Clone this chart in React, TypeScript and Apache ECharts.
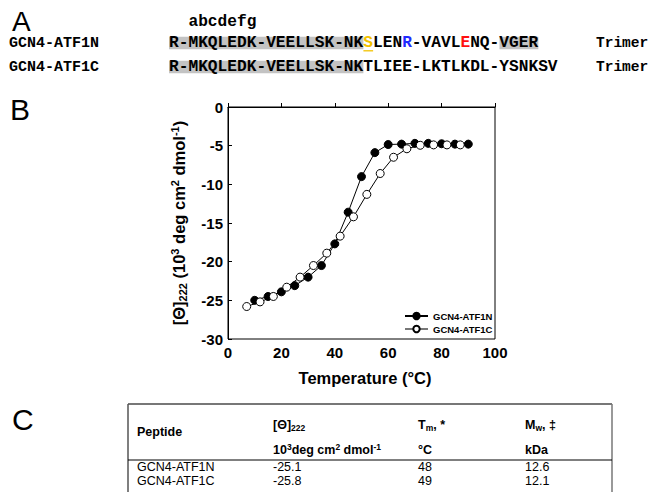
import React, { useEffect, useRef } from "react";
import * as echarts from "echarts";

// ---- Panel B data ----
const tempN = [10, 15, 20, 25, 30, 35, 40, 45, 50, 55, 60, 65, 70, 75, 80, 85, 90];
const thetaN = [-25.0, -24.5, -23.9, -23.1, -22.0, -20.5, -17.7, -13.6, -9.0, -5.9, -4.85, -4.8, -4.7, -4.7, -4.75, -4.8, -4.8];
const tempC = [7, 12, 17, 22, 27, 32, 37, 42, 47, 52, 57, 62, 67, 72, 77, 82, 87];
const thetaC = [-25.8, -25.2, -24.5, -23.3, -22.0, -20.5, -18.9, -16.7, -14.2, -11.3, -8.6, -6.5, -5.4, -4.95, -4.9, -4.9, -4.9];
const seriesNames = ["GCN4-ATF1N", "GCN4-ATF1C"];

// ---- Panel A text ----
const heptad = "abcdefg";
const seqN = "R-MKQLEDK-VEELLSK-NKSLENR-VAVLENQ-VGER";
const seqC = "R-MKQLEDK-VEELLSK-NKTLIEE-LKTLKDL-YSNKSV";
const oligomer = ["Trimer", "Trimer"];

// ---- Panel C table ----
const tableRows = [
  ["GCN4-ATF1N", "-25.1", "48", "12.6"],
  ["GCN4-ATF1C", "-25.8", "49", "12.1"],
];

const MONO = "'Liberation Mono', 'DejaVu Sans Mono', monospace";
const SANS = "'Liberation Sans', Arial, sans-serif";

export default function App() {
  const ref = useRef<HTMLDivElement>(null);
  useEffect(() => {
    document.body.style.margin = "0";
    const chart = echarts.init(ref.current!, null, { renderer: "svg" });

    const fs = 16.2;
    const cw = fs * 0.6;
    const seqX = 169;
    const row1 = 43;
    const row2 = 67;
    const gray = "#c3c3c3";
    const monoStyle = { fontFamily: MONO, fontWeight: "bold" as const, fontSize: fs, fill: "#000" };
    const nameStyle = { fontFamily: MONO, fontWeight: "bold" as const, fontSize: 15, fill: "#000" };

    const seqRich = {
      n: { fontFamily: MONO, fontWeight: "bold", fontSize: fs, fill: "#000" },
      s: { fontFamily: MONO, fontWeight: "bold", fontSize: fs, fill: "#f2c200" },
      b: { fontFamily: MONO, fontWeight: "bold", fontSize: fs, fill: "#1f2bff" },
      r: { fontFamily: MONO, fontWeight: "bold", fontSize: fs, fill: "#ff1010" },
    };
    const seqNRich =
      "{n|" + seqN.slice(0, 20) + "}{s|" + seqN[20] + "}{n|" + seqN.slice(21, 24) + "}{b|" + seqN[24] +
      "}{n|" + seqN.slice(25, 30) + "}{r|" + seqN[30] + "}{n|" + seqN.slice(31) + "}";

    const letterStyle = { fontFamily: SANS, fontSize: 28, fill: "#000", verticalAlign: "middle" as const, lineHeight: 22 };
    const graphics: any[] = [
      // panel letters
      { type: "text", x: 12, y: 21, style: { ...letterStyle, text: "A" } },
      { type: "text", x: 10, y: 109, style: { ...letterStyle, fontSize: 30, text: "B" } },
      { type: "text", x: 12, y: 419, style: { ...letterStyle, fontSize: 30, text: "C" } },
      // gray highlights
      { type: "rect", shape: { x: seqX, y: row1 - 6.3, width: cw * 20, height: 12.6 }, style: { fill: gray } },
      { type: "rect", shape: { x: seqX + cw * 34, y: row1 - 6.3, width: cw * 4, height: 12.6 }, style: { fill: gray } },
      { type: "rect", shape: { x: seqX, y: row2 - 6.3, width: cw * 20, height: 12.6 }, style: { fill: gray } },
      { type: "text", x: seqX + cw * 2, y: 22, style: { ...monoStyle, text: heptad, verticalAlign: "middle" } },
      { type: "text", x: 9, y: row1, style: { ...nameStyle, text: seriesNames[0], verticalAlign: "middle" } },
      { type: "text", x: 9, y: row2, style: { ...nameStyle, text: seriesNames[1], verticalAlign: "middle" } },
      { type: "text", x: seqX, y: row1, style: { text: seqNRich, rich: seqRich, verticalAlign: "middle", fontFamily: MONO, fontWeight: "bold", fontSize: fs } },
      { type: "line", shape: { x1: seqX + cw * 20, y1: 50.8, x2: seqX + cw * 21, y2: 50.8 }, style: { stroke: "#f2c200", lineWidth: 1.3 } },
      { type: "text", x: seqX, y: row2, style: { ...monoStyle, text: seqC, verticalAlign: "middle" } },
      { type: "text", x: 596, y: row1, style: { ...nameStyle, fontSize: 14.5, text: oligomer[0], verticalAlign: "middle" } },
      { type: "text", x: 596, y: row2, style: { ...nameStyle, fontSize: 14.5, text: oligomer[1], verticalAlign: "middle" } },
    ];

    // table C
    const tL = 128, tR = 612, tTop = 404;
    const colX = [137, 273, 418, 525];
    const bold12 = { fontFamily: SANS, fontWeight: "bold" as const, fontSize: 12.5, fill: "#000", verticalAlign: "middle" as const };
    const reg12 = { fontFamily: SANS, fontSize: 12.5, fill: "#000", verticalAlign: "middle" as const };
    const hdrRich = {
      n: { fontFamily: SANS, fontWeight: "bold", fontSize: 12.5, fill: "#000" },
      sub: { fontFamily: SANS, fontWeight: "bold", fontSize: 8.5, fill: "#000", padding: [6, 0, 0, 0] },
      sup: { fontFamily: SANS, fontWeight: "bold", fontSize: 8.5, fill: "#000", padding: [0, 0, 6, 0] },
    };
    graphics.push(
      { type: "line", shape: { x1: tL, y1: tTop, x2: tR, y2: tTop }, style: { stroke: "#777", lineWidth: 2 } },
      { type: "line", shape: { x1: tL, y1: tTop, x2: tL, y2: 492 }, style: { stroke: "#555", lineWidth: 1.5 } },
      { type: "line", shape: { x1: tR, y1: tTop, x2: tR, y2: 492 }, style: { stroke: "#777", lineWidth: 1.5 } },
      { type: "line", shape: { x1: tL, y1: 460, x2: tR, y2: 460 }, style: { stroke: "#000", lineWidth: 1 } },
      { type: "text", x: colX[0], y: 432, style: { ...bold12, text: "Peptide" } },
      { type: "text", x: colX[1], y: 425, style: { text: "{n|[Θ]}{sub|222}", rich: hdrRich, verticalAlign: "middle" } },
      { type: "text", x: colX[1], y: 450, style: { text: "{n|10}{sup|3}{n|deg cm}{sup|2}{n| dmol}{sup|-1}", rich: hdrRich, verticalAlign: "middle" } },
      { type: "text", x: colX[2], y: 425, style: { text: "{n|T}{sub|m}{n|, *}", rich: hdrRich, verticalAlign: "middle" } },
      { type: "text", x: colX[2], y: 450, style: { ...bold12, text: "°C" } },
      { type: "text", x: colX[3], y: 425, style: { text: "{n|M}{sub|w}{n|, ‡}", rich: hdrRich, verticalAlign: "middle" } },
      { type: "text", x: colX[3], y: 450, style: { ...bold12, text: "kDa" } }
    );
    tableRows.forEach((row, i) => {
      row.forEach((cell, j) => {
        graphics.push({ type: "text", x: colX[j], y: 467 + i * 13.5, style: { ...reg12, text: cell } });
      });
    });

    const yTitleRich = {
      n: { fontFamily: SANS, fontWeight: "bold", fontSize: 16.5, color: "#000", lineHeight: 24 },
      sub: { fontFamily: SANS, fontWeight: "bold", fontSize: 11, color: "#000", lineHeight: 24, padding: [8, 0, 0, 0] },
      sup: { fontFamily: SANS, fontWeight: "bold", fontSize: 11, color: "#000", lineHeight: 24, padding: [0, 0, 8, 0] },
    };

    chart.setOption({
      animation: false,
      grid: { left: 228, right: 158, top: 107, bottom: 153, show: true, borderColor: "#000", borderWidth: 1 },
      legend: {
        orient: "vertical",
        left: 399,
        top: 306,
        itemWidth: 23,
        itemHeight: 8,
        itemGap: 3,
        textStyle: { fontFamily: SANS, fontWeight: "bold", fontSize: 9.5, color: "#000" },
        data: [
          { name: seriesNames[0] },
          { name: seriesNames[1], lineStyle: { color: "#777" } },
        ],
      },
      xAxis: {
        type: "value",
        min: 0,
        max: 100,
        interval: 20,
        axisLine: { lineStyle: { color: "#000", width: 1 } },
        axisTick: { inside: true, length: 4, lineStyle: { color: "#000" } },
        splitLine: { show: false },
        axisLabel: { color: "#000", fontFamily: SANS, fontWeight: "bold", fontSize: 15, margin: 6 },
        name: "Temperature (°C)",
        nameLocation: "middle",
        nameGap: 30,
        nameTextStyle: { color: "#000", fontFamily: SANS, fontWeight: "bold", fontSize: 16.5, padding: [0, 0, 0, 7] },
      },
      yAxis: {
        type: "value",
        min: -30,
        max: 0,
        interval: 5,
        axisLine: { onZero: false, lineStyle: { color: "#000", width: 1 } },
        axisTick: { inside: true, length: 4, lineStyle: { color: "#000" } },
        splitLine: { show: false },
        axisLabel: { color: "#000", fontFamily: SANS, fontWeight: "bold", fontSize: 15, margin: 5 },
        name: "{n|[Θ]}{sub|222}{n| (10}{sup|3}{n| deg cm}{sup|2}{n| dmol}{sup|-1}{n|)}",
        nameLocation: "middle",
        nameGap: 37,
        nameRotate: 90,
        nameTextStyle: { rich: yTitleRich, padding: [0, 0, 0, 0] },
      },
      series: [
        {
          name: seriesNames[0],
          type: "line",
          data: tempN.map((t, i) => [t, thetaN[i]]),
          symbol: "circle",
          symbolSize: 8,
          itemStyle: { color: "#000", borderColor: "#000", borderWidth: 1 },
          lineStyle: { color: "#000", width: 1 },
        },
        {
          name: seriesNames[1],
          type: "line",
          data: tempC.map((t, i) => [t, thetaC[i]]),
          symbol: "circle",
          symbolSize: 8,
          itemStyle: { color: "#fff", borderColor: "#000", borderWidth: 1 },
          lineStyle: { color: "#000", width: 1 },
        },
      ],
      graphic: graphics,
    });
    return () => chart.dispose();
  }, []);
  return <div ref={ref} style={{ width: 653, height: 492 }} />;
}
